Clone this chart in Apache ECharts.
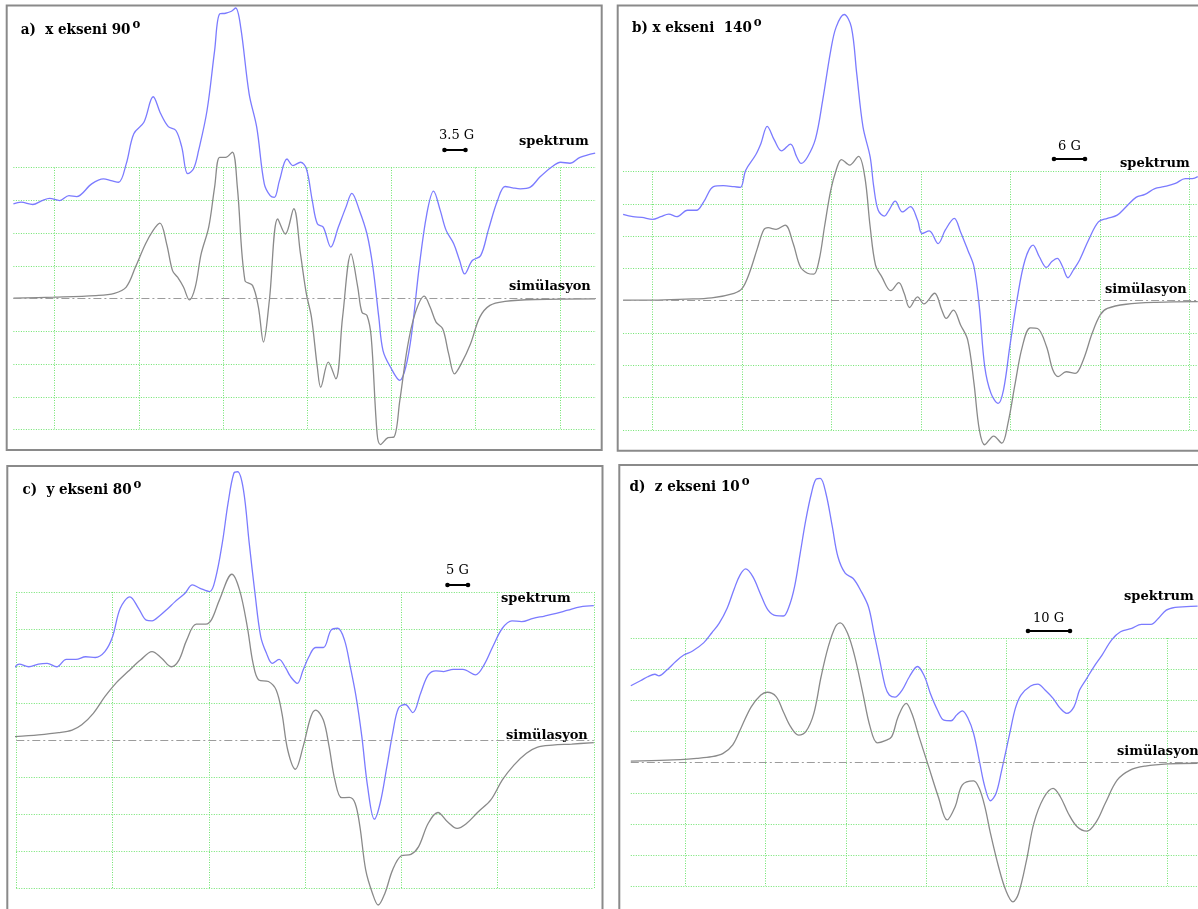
<!DOCTYPE html>
<html><head><meta charset="utf-8">
<script src="https://cdn.jsdelivr.net/npm/echarts@6/dist/echarts.min.js"></script>
<style>html,body{margin:0;padding:0;background:#fff}#c{width:1198px;height:909px}</style>
</head><body><div id="c"></div>
<script>
// ---------- texts ----------
const panelTitles = ['a)  x ekseni 90', 'b) x ekseni  140', 'c)  y ekseni 80', 'd)  z ekseni 10'];
const degreeMark = 'o';
const scaleLabels = ['3.5 G', '6 G', '5 G', '10 G'];
const spectrumLabel = 'spektrum';
const simulationLabel = 'simülasyon';

// ---------- data (x in grid-line units, y in grid-line units, baseline 0) ----------
const aSpektrum = [[0.51,2.89],[0.60,2.94],[0.74,2.87],[0.85,2.99],[0.94,3.06],[1.06,2.99],[1.17,3.14],[1.26,3.11],[1.44,3.50],[1.58,3.65],[1.67,3.60],[1.76,3.55],[1.85,4.11],[1.94,5.03],[2.06,5.38],[2.17,6.16],[2.26,5.64],[2.35,5.25],[2.44,5.13],[2.51,4.62],[2.58,3.81],[2.65,3.96],[2.71,4.52],[2.81,5.74],[2.90,7.57],[2.96,8.69],[3.03,8.71],[3.10,8.77],[3.15,8.87],[3.21,8.28],[3.31,6.25],[3.40,5.23],[3.49,3.50],[3.56,3.14],[3.61,3.09],[3.67,3.60],[3.76,4.26],[3.83,4.06],[3.92,4.16],[3.99,3.96],[4.06,2.99],[4.12,2.28],[4.19,2.18],[4.28,1.57],[4.37,2.18],[4.46,2.79],[4.53,3.21],[4.62,2.69],[4.71,1.97],[4.78,0.96],[4.85,-0.57],[4.90,-1.59],[4.99,-2.10],[5.10,-2.50],[5.17,-2.10],[5.24,-1.08],[5.33,0.96],[5.42,2.58],[5.50,3.28],[5.58,2.69],[5.65,2.08],[5.74,1.67],[5.81,1.16],[5.87,0.75],[5.96,1.16],[6.06,1.31],[6.15,2.08],[6.26,2.99],[6.35,3.42],[6.44,3.38],[6.53,3.35],[6.65,3.40],[6.76,3.70],[6.90,4.01],[7.01,4.16],[7.12,4.13],[7.24,4.31],[7.42,4.44]];
const aSimulasyon = [[0.51,0.01],[0.99,0.04],[1.49,0.09],[1.71,0.16],[1.85,0.35],[1.96,0.96],[2.08,1.67],[2.17,2.08],[2.25,2.30],[2.33,1.67],[2.40,0.85],[2.46,0.65],[2.53,0.35],[2.60,-0.04],[2.67,0.35],[2.74,1.36],[2.83,2.18],[2.90,3.40],[2.96,4.31],[3.03,4.31],[3.11,4.47],[3.17,3.40],[3.26,0.55],[3.35,0.40],[3.42,-0.26],[3.48,-1.33],[3.55,-0.06],[3.65,2.43],[3.74,1.97],[3.84,2.74],[3.92,1.36],[3.99,0.14],[4.05,-0.57],[4.12,-2.10],[4.16,-2.71],[4.25,-1.94],[4.34,-2.45],[4.42,-0.57],[4.52,1.36],[4.60,0.35],[4.65,-0.42],[4.71,-0.52],[4.76,-1.18],[4.83,-4.13],[4.87,-4.46],[4.96,-4.25],[5.03,-4.23],[5.10,-3.11],[5.19,-1.49],[5.28,-0.47],[5.39,0.07],[5.46,-0.26],[5.53,-0.72],[5.61,-0.93],[5.68,-1.69],[5.75,-2.30],[5.83,-1.99],[5.94,-1.38],[6.05,-0.57],[6.17,-0.21],[6.35,-0.09],[6.71,-0.03],[7.42,-0.01]];

const bSpektrum = [[0.67,2.67],[0.78,2.60],[0.88,2.58],[1.00,2.52],[1.09,2.60],[1.18,2.68],[1.27,2.60],[1.39,2.80],[1.49,2.80],[1.57,3.06],[1.68,3.53],[1.79,3.56],[1.91,3.53],[1.98,3.51],[2.04,4.04],[2.15,4.51],[2.21,4.87],[2.28,5.40],[2.36,4.97],[2.44,4.64],[2.54,4.85],[2.61,4.45],[2.66,4.25],[2.73,4.45],[2.82,5.02],[2.90,6.21],[2.99,7.75],[3.05,8.47],[3.14,8.86],[3.22,8.47],[3.28,7.03],[3.35,5.38],[3.43,4.45],[3.47,3.53],[3.52,2.80],[3.59,2.62],[3.64,2.80],[3.71,3.08],[3.79,2.75],[3.88,2.91],[3.96,2.49],[4.01,2.08],[4.09,2.16],[4.19,1.77],[4.27,2.19],[4.37,2.55],[4.44,2.13],[4.52,1.57],[4.59,1.05],[4.65,-0.19],[4.71,-2.04],[4.78,-2.87],[4.86,-3.18],[4.92,-2.76],[4.99,-1.42],[5.07,0.02],[5.16,1.26],[5.25,1.72],[5.32,1.36],[5.40,1.03],[5.46,1.21],[5.52,1.31],[5.58,1.05],[5.64,0.71],[5.70,0.95],[5.77,1.26],[5.87,1.88],[5.98,2.44],[6.08,2.55],[6.19,2.65],[6.29,2.91],[6.40,3.20],[6.50,3.29],[6.61,3.47],[6.71,3.53],[6.84,3.63],[6.95,3.78],[7.03,3.78],[7.09,3.84]];
const bSimulasyon = [[0.67,0.02],[1.00,0.02],[1.37,0.05],[1.66,0.09],[1.91,0.23],[2.00,0.38],[2.08,0.85],[2.17,1.62],[2.24,2.19],[2.29,2.26],[2.38,2.21],[2.48,2.34],[2.57,1.77],[2.65,1.05],[2.73,0.85],[2.80,0.82],[2.86,1.26],[2.92,2.29],[2.99,3.42],[3.05,4.04],[3.11,4.37],[3.20,4.20],[3.30,4.47],[3.37,3.84],[3.43,2.29],[3.49,1.10],[3.56,0.74],[3.66,0.31],[3.75,0.56],[3.81,0.23],[3.87,-0.21],[3.96,0.12],[4.03,-0.10],[4.15,0.23],[4.23,-0.29],[4.28,-0.55],[4.36,-0.29],[4.44,-0.75],[4.52,-1.22],[4.59,-2.56],[4.65,-4.00],[4.71,-4.46],[4.81,-4.19],[4.90,-4.41],[4.97,-3.79],[5.05,-2.56],[5.13,-1.42],[5.22,-0.84],[5.30,-0.86],[5.40,-1.42],[5.47,-2.14],[5.53,-2.35],[5.62,-2.20],[5.72,-2.25],[5.81,-1.84],[5.91,-1.01],[6.00,-0.44],[6.08,-0.24],[6.29,-0.11],[6.63,-0.05],[7.09,-0.03]];

const cSpektrum = [[0.97,1.92],[1.03,2.05],[1.13,1.98],[1.23,2.05],[1.32,2.07],[1.42,1.98],[1.52,2.18],[1.62,2.18],[1.72,2.25],[1.82,2.23],[1.92,2.39],[2.00,2.79],[2.08,3.56],[2.18,3.87],[2.27,3.56],[2.35,3.24],[2.41,3.22],[2.49,3.36],[2.57,3.54],[2.65,3.74],[2.75,3.96],[2.83,4.19],[2.91,4.10],[3.01,4.01],[3.07,4.37],[3.14,5.32],[3.20,6.40],[3.26,7.21],[3.30,7.25],[3.36,6.76],[3.42,5.32],[3.48,3.96],[3.54,2.79],[3.60,2.34],[3.66,2.07],[3.73,2.18],[3.80,1.94],[3.85,1.71],[3.92,1.53],[3.98,1.89],[4.04,2.25],[4.11,2.50],[4.19,2.50],[4.27,2.97],[4.34,3.02],[4.41,2.70],[4.47,1.98],[4.53,1.17],[4.59,0.09],[4.65,-1.26],[4.72,-2.14],[4.78,-1.71],[4.85,-0.72],[4.91,0.18],[4.97,0.86],[5.04,0.96],[5.12,0.74],[5.20,1.26],[5.28,1.76],[5.36,1.87],[5.44,1.85],[5.54,1.91],[5.64,1.91],[5.77,1.76],[5.86,2.03],[5.95,2.52],[6.05,3.02],[6.15,3.22],[6.25,3.20],[6.37,3.29],[6.49,3.35],[6.61,3.42],[6.73,3.51],[6.86,3.60],[7.00,3.63]];
const cSimulasyon = [[0.97,0.09],[1.23,0.14],[1.44,0.20],[1.58,0.27],[1.68,0.41],[1.80,0.72],[1.92,1.17],[2.04,1.55],[2.16,1.85],[2.29,2.16],[2.41,2.39],[2.51,2.21],[2.61,1.98],[2.69,2.16],[2.77,2.70],[2.87,3.13],[2.97,3.13],[3.03,3.26],[3.11,3.78],[3.24,4.48],[3.32,4.05],[3.40,3.06],[3.46,2.07],[3.52,1.62],[3.62,1.58],[3.70,1.35],[3.76,0.72],[3.82,-0.27],[3.90,-0.79],[3.98,-0.18],[4.06,0.63],[4.11,0.81],[4.19,0.54],[4.25,-0.18],[4.31,-1.08],[4.38,-1.56],[4.46,-1.55],[4.52,-1.71],[4.57,-2.34],[4.63,-3.51],[4.70,-4.14],[4.76,-4.46],[4.83,-4.14],[4.91,-3.51],[5.00,-3.13],[5.10,-3.09],[5.18,-2.88],[5.28,-2.25],[5.38,-1.96],[5.48,-2.21],[5.58,-2.39],[5.68,-2.25],[5.80,-1.94],[5.93,-1.62],[6.05,-1.08],[6.17,-0.68],[6.30,-0.36],[6.41,-0.20],[6.57,-0.14],[6.77,-0.11],[7.00,-0.07]];

const dSpektrum = [[0.32,2.46],[0.44,2.62],[0.53,2.75],[0.62,2.83],[0.67,2.78],[0.77,2.97],[0.88,3.24],[0.98,3.45],[1.09,3.58],[1.23,3.85],[1.33,4.17],[1.42,4.47],[1.52,4.96],[1.61,5.60],[1.68,6.03],[1.75,6.23],[1.84,5.98],[1.94,5.39],[2.03,4.90],[2.13,4.72],[2.22,4.71],[2.29,5.01],[2.36,5.66],[2.43,6.73],[2.50,7.81],[2.57,8.67],[2.63,9.13],[2.68,9.15],[2.75,8.67],[2.83,7.59],[2.90,6.62],[2.99,6.09],[3.09,5.92],[3.18,5.55],[3.28,5.01],[3.35,4.15],[3.42,3.29],[3.49,2.43],[3.54,2.16],[3.61,2.09],[3.70,2.32],[3.79,2.75],[3.89,3.08],[3.98,2.75],[4.05,2.22],[4.14,1.68],[4.22,1.35],[4.31,1.33],[4.38,1.52],[4.45,1.65],[4.52,1.41],[4.59,0.92],[4.66,0.06],[4.73,-0.80],[4.80,-1.25],[4.87,-1.01],[4.94,-0.26],[5.04,0.92],[5.11,1.73],[5.18,2.16],[5.30,2.45],[5.39,2.51],[5.48,2.32],[5.58,2.05],[5.67,1.73],[5.75,1.57],[5.84,1.78],[5.91,2.32],[6.00,2.70],[6.09,3.08],[6.19,3.45],[6.31,3.94],[6.42,4.20],[6.56,4.31],[6.68,4.44],[6.80,4.44],[6.89,4.63],[6.99,4.90],[7.10,4.99],[7.24,5.01],[7.38,5.03]];
const dSimulasyon = [[0.32,0.03],[0.77,0.06],[1.14,0.12],[1.33,0.17],[1.47,0.28],[1.59,0.55],[1.70,1.14],[1.82,1.78],[1.94,2.16],[2.02,2.25],[2.13,2.11],[2.22,1.62],[2.31,1.14],[2.41,0.87],[2.50,0.98],[2.60,1.57],[2.69,2.75],[2.78,3.72],[2.87,4.37],[2.93,4.49],[3.02,4.15],[3.11,3.40],[3.21,2.22],[3.30,1.14],[3.39,0.62],[3.49,0.69],[3.57,0.82],[3.65,1.46],[3.75,1.89],[3.82,1.57],[3.91,0.82],[4.03,-0.15],[4.15,-1.12],[4.26,-1.87],[4.36,-1.44],[4.45,-0.74],[4.59,-0.61],[4.66,-0.85],[4.73,-1.44],[4.80,-2.30],[4.90,-3.37],[4.99,-4.13],[5.08,-4.51],[5.15,-4.24],[5.25,-3.16],[5.34,-1.98],[5.46,-1.17],[5.58,-0.85],[5.67,-1.12],[5.77,-1.66],[5.88,-2.09],[6.00,-2.23],[6.12,-1.92],[6.23,-1.33],[6.38,-0.58],[6.54,-0.26],[6.73,-0.13],[7.01,-0.06],[7.38,-0.04]];

const spectra = [aSpektrum, bSpektrum, cSpektrum, dSpektrum];
const simulations = [aSimulasyon, bSimulasyon, cSimulasyon, dSimulasyon];

// ---------- layout ----------
const layout = [
  {box:[6.7,5.5,595,444.5], grid:{left:13.4,top:167.5,width:582.6,height:262}, xr:[0.51,7.43], vlines:{left:54.7,width:505.2},
   title:[20.7,30.5], spek:[519,142], sim:[509,287], scale:[439,136], bar:[444.5,465.5,150]},
  {box:[617.7,5.5,590,445.2], grid:{left:623.1,top:171.5,width:577,height:258.4}, xr:[0.67,7.116], vlines:{left:652.6,width:537},
   title:[632,28.5], spek:[1120,164], sim:[1105,290], scale:[1058,147], bar:[1054,1085,159]},
  {box:[7.3,466,595.2,450], grid:{left:16.3,top:592,width:577.5,height:296}, xr:[1,7], vlines:null,
   title:[22.5,490], spek:[501,599], sim:[506,736], scale:[446,571], bar:[447.5,468,585]},
  {box:[619.3,465,590,450], grid:{left:630.8,top:638,width:569.2,height:248}, xr:[0.32,7.41], vlines:{left:685.4,width:481.8},
   title:[629.6,487], spek:[1124,597], sim:[1117,752], scale:[1033,619], bar:[1028,1070,631]}
];

const GREEN = '#6fe46f';
const BLUE = '#7b7bff';
const GRAY = '#8a8a8a';
const SERIF = 'DejaVu Serif';
const TITLE_FONT = '"DejaVu Serif Condensed", "DejaVu Serif"';
const DOT = [1, 1.5];
const hidden = {axisLine:{show:false}, axisTick:{show:false}, axisLabel:{show:false}};
const hColors = [GREEN,GREEN,GREEN,GREEN,'rgba(0,0,0,0)',GREEN,GREEN,GREEN,GREEN];

const grids = [], xAxes = [], yAxes = [], series = [], graphic = [];
layout.forEach((p, i) => {
  const gi = grids.length;
  grids.push(Object.assign({outerBoundsMode:'none', containLabel:false}, p.grid));
  const isC = !p.vlines;
  xAxes.push(Object.assign({gridIndex:gi, type:'value', min:p.xr[0], max:p.xr[1], show:true}, hidden,
    isC ? {interval:1, splitLine:{show:true, showMinLine:true, showMaxLine:true, lineStyle:{color:GREEN, type:DOT, width:1}}}
        : {splitLine:{show:false}}));
  yAxes.push(Object.assign({gridIndex:gi, type:'value', min:-4, max:4, interval:1}, hidden,
    {splitLine:{show:true, showMinLine:true, showMaxLine:true, lineStyle:{color:hColors, type:DOT, width:1}}}));
  if (p.vlines) {
    const gj = grids.length;
    grids.push({outerBoundsMode:'none', containLabel:false, left:p.vlines.left, width:p.vlines.width, top:p.grid.top, height:p.grid.height});
    xAxes.push(Object.assign({gridIndex:gj, type:'value', min:1, max:7, interval:1}, hidden,
      {splitLine:{show:true, showMinLine:true, showMaxLine:true, lineStyle:{color:GREEN, type:DOT, width:1}}}));
    yAxes.push({gridIndex:gj, type:'value', min:0, max:1, show:false});
  }
  series.push({type:'line', name:spectrumLabel, xAxisIndex:gi, yAxisIndex:gi, data:spectra[i], smooth:0.35, symbol:'none', clip:false,
    lineStyle:{color:BLUE, width:1.3}, silent:true, z:3});
  series.push({type:'line', name:simulationLabel, xAxisIndex:gi, yAxisIndex:gi, data:simulations[i], smooth:0.35, symbol:'none', clip:false,
    lineStyle:{color:GRAY, width:1.3}, silent:true, z:4,
    markLine:{silent:true, symbol:['none','none'], label:{show:false}, animation:false,
      lineStyle:{color:'#9c9c9c', type:[8,3,2,3], width:1}, data:[{yAxis:0}]}});

  graphic.push({type:'rect', silent:true, z:100, shape:{x:p.box[0], y:p.box[1], width:p.box[2], height:p.box[3]},
    style:{fill:'none', stroke:'#8a8a8a', lineWidth:2}});
  graphic.push({type:'text', silent:true, z:100, x:p.title[0], y:p.title[1],
    style:{text:panelTitles[i] + '{o|' + degreeMark + '}', fontFamily:TITLE_FONT, fontWeight:'bold', fontSize:15, fill:'#000',
      align:'left', verticalAlign:'middle',
      rich:{o:{fontFamily:TITLE_FONT, fontWeight:'bold', fontSize:13, fill:'#000', verticalAlign:'top', lineHeight:24, padding:[0,0,0,2]}}}});
  const lab = (pos, txt, w, sz) => graphic.push({type:'text', silent:true, z:100, x:pos[0], y:pos[1],
    style:{text:txt, fontFamily:SERIF, fontWeight:w, fontSize:sz, fill:'#000', align:'left', verticalAlign:'middle'}});
  lab(p.spek, spectrumLabel, 'bold', 13);
  lab(p.sim, simulationLabel, 'bold', 13);
  lab(p.scale, scaleLabels[i], 'normal', 13);
  graphic.push({type:'line', silent:true, z:100, shape:{x1:p.bar[0], y1:p.bar[2], x2:p.bar[1], y2:p.bar[2]}, style:{stroke:'#000', lineWidth:2}});
  graphic.push({type:'circle', silent:true, z:100, shape:{cx:p.bar[0], cy:p.bar[2], r:2.3}, style:{fill:'#000'}});
  graphic.push({type:'circle', silent:true, z:100, shape:{cx:p.bar[1], cy:p.bar[2], r:2.3}, style:{fill:'#000'}});
});

const chart = echarts.init(document.getElementById('c'), null, {renderer:'canvas'});
chart.setOption({animation:false, backgroundColor:'#fff', grid:grids, xAxis:xAxes, yAxis:yAxes, series:series, graphic:graphic});
</script></body></html>
